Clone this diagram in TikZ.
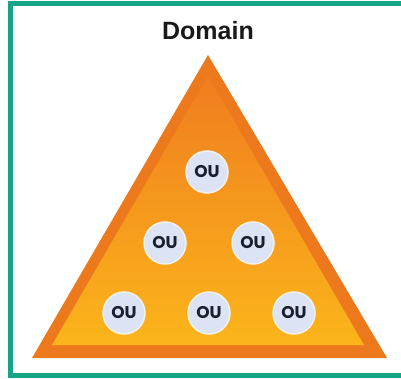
\documentclass[tikz,border=0pt]{standalone}
\usepackage{fontspec}
\setmainfont{Liberation Sans}
\newfontfamily\oufont{Poppins}
\usetikzlibrary{positioning}
\definecolor{frameteal}{HTML}{17A386}
\definecolor{pyrdark}{HTML}{EC7A1C}
\definecolor{pyrtop}{HTML}{F07D1F}
\definecolor{pyrbot}{HTML}{FBB51B}
\definecolor{oufill}{HTML}{DCE3F4}
\definecolor{ouedge}{HTML}{F4F1EC}
\definecolor{outext}{HTML}{1B1F2E}

\begin{document}
\begin{tikzpicture}[
    x=1pt, y=1pt,
    node distance=71pt and 42pt,
    on grid,
    ou/.style={circle, draw=ouedge, line width=1.5pt, fill=oufill, minimum size=42pt, inner sep=0pt,
               text=outext, font=\oufont\fontsize{17}{17}\selectfont\bfseries},
    title/.style={font=\fontsize{25}{25}\selectfont\bfseries, text=black!90}
]
    \useasboundingbox (0,0) rectangle (401,378);
    \fill[white] (0,0) rectangle (401,378);
    \draw[frameteal, line width=5pt] (10.5,2.5) rectangle (406,374);

    % pyramid
    \coordinate (apex) at (208,323);
    \coordinate (bl) at (32,20);
    \coordinate (br) at (387,20);
    \fill[pyrdark] (apex) -- (bl) -- (br) -- cycle;
    \shade[top color=pyrtop, bottom color=pyrbot] (208,302) -- (52,33) -- (364,33) -- cycle;

    \node[title] (domain) at (208,347) {Domain};

    \node[ou]                          (ou1) at (207,206) {OU};
    \node[ou, below left=71pt and 42pt of ou1]  (ou2) {OU};
    \node[ou, below right=71pt and 46pt of ou1] (ou3) {OU};
    \node[ou, below left=70pt and 41pt of ou2]  (ou4) {OU};
    \node[ou, right=85pt of ou4]       (ou5) {OU};
    \node[ou, right=85pt of ou5]       (ou6) {OU};
\end{tikzpicture}
\end{document}
